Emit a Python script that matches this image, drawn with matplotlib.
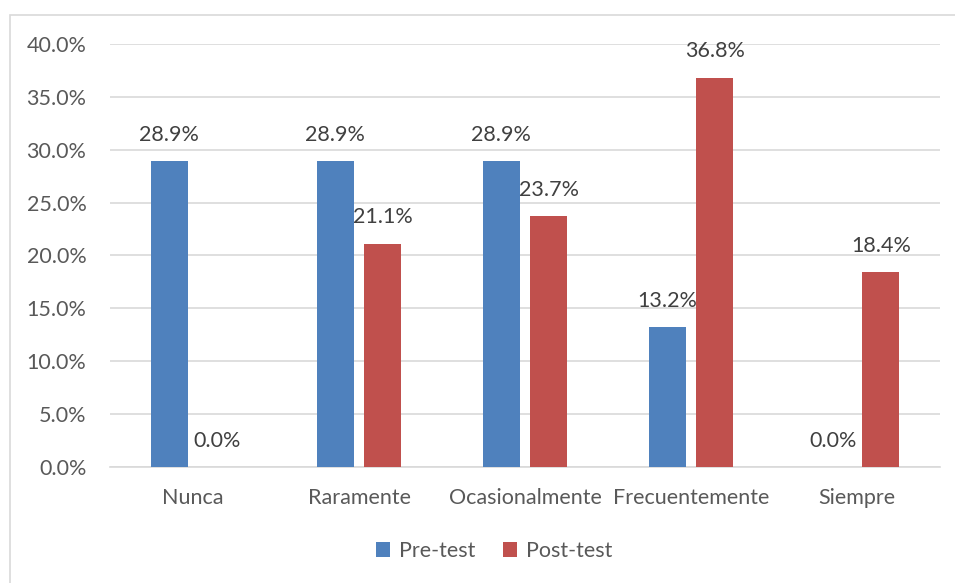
import matplotlib
matplotlib.use("Agg")
import matplotlib.pyplot as plt
from matplotlib.patches import Rectangle
import numpy as np

categories = ["Nunca", "Raramente", "Ocasionalmente", "Frecuentemente", "Siempre"]
pre_test = [28.9, 28.9, 28.9, 13.2, 0.0]
post_test = [0.0, 21.1, 23.7, 36.8, 18.4]
series_names = ["Pre-test", "Post-test"]
y_ticks = [0, 5, 10, 15, 20, 25, 30, 35, 40]

BLUE = "#4F81BD"
RED = "#C0504D"
GRID = "#D9D9D9"
TICK_COLOR = "#595959"
LABEL_COLOR = "#404040"
FS = 15.5

plt.rcParams["font.family"] = ["Lato", "DejaVu Sans"]

fig = plt.figure(figsize=(9.55, 5.83), dpi=100)
fig.patches.append(Rectangle((10 / 955, -0.01), 1.0, 1 - 15 / 583 + 0.01,
                             transform=fig.transFigure, fill=False,
                             edgecolor=GRID, linewidth=1.2))
ax = fig.add_axes([110 / 955, 1 - 467 / 583, 830 / 955, 423 / 583])

x = np.arange(len(categories))
w = 0.223
gap = 0.066
off = (w + gap) / 2
b1 = ax.bar(x - off, pre_test, w, color=BLUE, label=series_names[0], zorder=3)
b2 = ax.bar(x + off, post_test, w, color=RED, label=series_names[1], zorder=3)

for bars, vals in ((b1, pre_test), (b2, post_test)):
    for rect, v in zip(bars, vals):
        ax.annotate(f"{v:.1f}%", (rect.get_x() + rect.get_width() / 2, v),
                    xytext=(0, 19), textcoords="offset points",
                    ha="center", va="center", fontsize=FS, color=LABEL_COLOR)

ax.set_xlim(-0.5, len(categories) - 0.5)
ax.set_ylim(0, 40)
ax.set_yticks(y_ticks)
ax.set_yticklabels([f"{t:.1f}%" for t in y_ticks])
ax.set_xticks(x)
ax.set_xticklabels(categories)
ax.tick_params(axis="y", length=0, pad=17, labelsize=FS, labelcolor=TICK_COLOR)
ax.tick_params(axis="x", length=0, pad=15, labelsize=FS, labelcolor=TICK_COLOR)
ax.yaxis.grid(True, color=GRID, linewidth=1.2, zorder=0)
for s in ("top", "right", "left"):
    ax.spines[s].set_visible(False)
ax.spines["bottom"].set_color(GRID)
ax.spines["bottom"].set_linewidth(1.2)

leg = fig.legend(loc="center", bbox_to_anchor=(494 / 955, 1 - 551 / 583), ncol=2,
                 frameon=False, fontsize=FS, handlelength=0.65, handleheight=0.65,
                 handletextpad=0.4, columnspacing=1.3)
for t in leg.get_texts():
    t.set_color(TICK_COLOR)

fig.savefig("out.png", dpi=100)
